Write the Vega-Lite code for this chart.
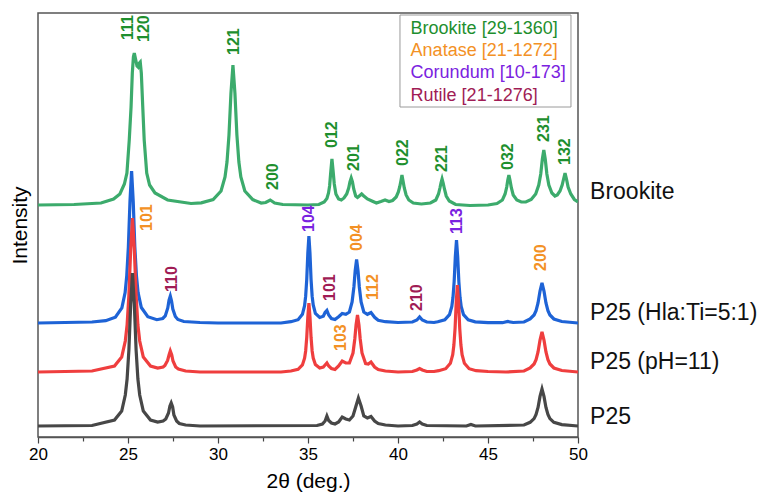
{
  "$schema": "https://vega.github.io/schema/vega-lite/v6.json",
  "width": 540,
  "height": 424,
  "autosize": {"type": "none"},
  "padding": {"left": 38, "top": 13, "right": 181, "bottom": 58},
  "config": {
    "font": "Liberation Sans",
    "view": {"stroke": "#555555", "strokeWidth": 1.5},
    "axis": {"labelFont": "Liberation Sans", "titleFont": "Liberation Sans", "labelColor": "#000000", "titleColor": "#000000", "titleFontWeight": "normal", "grid": false}
  },
  "datasets": {
    "curves": [
      {"s":"Brookite","t":20,"i":232},{"s":"Brookite","t":22,"i":232.5},{"s":"Brookite","t":23.5,"i":234},{"s":"Brookite","t":24.2,"i":238},{"s":"Brookite","t":24.55,"i":243},{"s":"Brookite","t":24.8,"i":253},{"s":"Brookite","t":24.94,"i":264},{"s":"Brookite","t":25.07,"i":297},{"s":"Brookite","t":25.17,"i":330},{"s":"Brookite","t":25.24,"i":364},{"s":"Brookite","t":25.3,"i":380},{"s":"Brookite","t":25.35,"i":384},{"s":"Brookite","t":25.42,"i":378},{"s":"Brookite","t":25.5,"i":371},{"s":"Brookite","t":25.56,"i":370},{"s":"Brookite","t":25.63,"i":374},{"s":"Brookite","t":25.68,"i":375},{"s":"Brookite","t":25.74,"i":364},{"s":"Brookite","t":25.82,"i":330},{"s":"Brookite","t":25.9,"i":297},{"s":"Brookite","t":26.04,"i":264},{"s":"Brookite","t":26.2,"i":252},{"s":"Brookite","t":26.5,"i":244},{"s":"Brookite","t":27.2,"i":237},{"s":"Brookite","t":28.5,"i":233.5},{"s":"Brookite","t":29.07,"i":234.1},{"s":"Brookite","t":29.73,"i":237.4},{"s":"Brookite","t":30.17,"i":246},{"s":"Brookite","t":30.39,"i":260},{"s":"Brookite","t":30.5,"i":275},{"s":"Brookite","t":30.61,"i":302},{"s":"Brookite","t":30.72,"i":344},{"s":"Brookite","t":30.83,"i":372},{"s":"Brookite","t":30.94,"i":344},{"s":"Brookite","t":31.05,"i":302},{"s":"Brookite","t":31.16,"i":275},{"s":"Brookite","t":31.27,"i":260},{"s":"Brookite","t":31.49,"i":246},{"s":"Brookite","t":31.93,"i":237.4},{"s":"Brookite","t":32.4,"i":234},{"s":"Brookite","t":32.65,"i":234.5},{"s":"Brookite","t":32.9,"i":237},{"s":"Brookite","t":33.15,"i":234},{"s":"Brookite","t":33.6,"i":232.5},{"s":"Brookite","t":35,"i":232},{"s":"Brookite","t":35.6,"i":232.5},{"s":"Brookite","t":35.9,"i":235},{"s":"Brookite","t":36.05,"i":238.5},{"s":"Brookite","t":36.14,"i":244},{"s":"Brookite","t":36.2,"i":251},{"s":"Brookite","t":36.26,"i":264},{"s":"Brookite","t":36.33,"i":278},{"s":"Brookite","t":36.4,"i":265},{"s":"Brookite","t":36.46,"i":253},{"s":"Brookite","t":36.55,"i":243},{"s":"Brookite","t":36.7,"i":238},{"s":"Brookite","t":36.85,"i":237},{"s":"Brookite","t":37,"i":239},{"s":"Brookite","t":37.15,"i":243},{"s":"Brookite","t":37.26,"i":249},{"s":"Brookite","t":37.33,"i":255},{"s":"Brookite","t":37.4,"i":259},{"s":"Brookite","t":37.47,"i":255},{"s":"Brookite","t":37.54,"i":248},{"s":"Brookite","t":37.65,"i":241},{"s":"Brookite","t":37.75,"i":239.5},{"s":"Brookite","t":37.85,"i":241},{"s":"Brookite","t":37.98,"i":243},{"s":"Brookite","t":38.1,"i":241},{"s":"Brookite","t":38.3,"i":238},{"s":"Brookite","t":38.55,"i":236},{"s":"Brookite","t":38.8,"i":234},{"s":"Brookite","t":39.05,"i":235.5},{"s":"Brookite","t":39.28,"i":237},{"s":"Brookite","t":39.5,"i":235.5},{"s":"Brookite","t":39.7,"i":236.5},{"s":"Brookite","t":39.9,"i":240},{"s":"Brookite","t":40.02,"i":245},{"s":"Brookite","t":40.1,"i":250.5},{"s":"Brookite","t":40.16,"i":256},{"s":"Brookite","t":40.22,"i":262},{"s":"Brookite","t":40.28,"i":256},{"s":"Brookite","t":40.35,"i":249},{"s":"Brookite","t":40.45,"i":242},{"s":"Brookite","t":40.6,"i":237},{"s":"Brookite","t":40.85,"i":234},{"s":"Brookite","t":41.3,"i":233},{"s":"Brookite","t":41.8,"i":234},{"s":"Brookite","t":42.1,"i":237},{"s":"Brookite","t":42.25,"i":243},{"s":"Brookite","t":42.33,"i":249},{"s":"Brookite","t":42.39,"i":254},{"s":"Brookite","t":42.45,"i":258},{"s":"Brookite","t":42.51,"i":254},{"s":"Brookite","t":42.58,"i":248},{"s":"Brookite","t":42.68,"i":241},{"s":"Brookite","t":42.85,"i":236},{"s":"Brookite","t":43.2,"i":232.5},{"s":"Brookite","t":44,"i":231.5},{"s":"Brookite","t":45,"i":232},{"s":"Brookite","t":45.5,"i":233.5},{"s":"Brookite","t":45.8,"i":237},{"s":"Brookite","t":45.95,"i":243},{"s":"Brookite","t":46.04,"i":250},{"s":"Brookite","t":46.1,"i":257},{"s":"Brookite","t":46.16,"i":262},{"s":"Brookite","t":46.22,"i":257},{"s":"Brookite","t":46.3,"i":249},{"s":"Brookite","t":46.4,"i":242},{"s":"Brookite","t":46.6,"i":237},{"s":"Brookite","t":46.85,"i":235},{"s":"Brookite","t":47.1,"i":235},{"s":"Brookite","t":47.4,"i":237.5},{"s":"Brookite","t":47.65,"i":243},{"s":"Brookite","t":47.82,"i":252},{"s":"Brookite","t":47.93,"i":263},{"s":"Brookite","t":48.02,"i":278},{"s":"Brookite","t":48.1,"i":287},{"s":"Brookite","t":48.18,"i":278},{"s":"Brookite","t":48.27,"i":263},{"s":"Brookite","t":48.38,"i":252},{"s":"Brookite","t":48.55,"i":244},{"s":"Brookite","t":48.72,"i":241},{"s":"Brookite","t":48.85,"i":242},{"s":"Brookite","t":49,"i":246},{"s":"Brookite","t":49.12,"i":252},{"s":"Brookite","t":49.2,"i":258},{"s":"Brookite","t":49.28,"i":264},{"s":"Brookite","t":49.36,"i":258},{"s":"Brookite","t":49.45,"i":250},{"s":"Brookite","t":49.6,"i":243},{"s":"Brookite","t":49.8,"i":237.5},{"s":"Brookite","t":50,"i":235},

      {"s":"Hla","t":20,"i":114},{"s":"Hla","t":23,"i":115},{"s":"Hla","t":23.76,"i":116.3},{"s":"Hla","t":24.3,"i":119.8},{"s":"Hla","t":24.66,"i":129.2},{"s":"Hla","t":24.84,"i":144.4},{"s":"Hla","t":24.93,"i":161},{"s":"Hla","t":25.02,"i":190},{"s":"Hla","t":25.11,"i":235.6},{"s":"Hla","t":25.2,"i":266},{"s":"Hla","t":25.29,"i":235.6},{"s":"Hla","t":25.38,"i":190},{"s":"Hla","t":25.47,"i":161},{"s":"Hla","t":25.56,"i":144.4},{"s":"Hla","t":25.74,"i":129.5},{"s":"Hla","t":26.1,"i":120.3},{"s":"Hla","t":26.6,"i":117.3},{"s":"Hla","t":26.93,"i":118.5},{"s":"Hla","t":27.07,"i":121},{"s":"Hla","t":27.21,"i":129},{"s":"Hla","t":27.28,"i":137},{"s":"Hla","t":27.35,"i":141},{"s":"Hla","t":27.42,"i":136},{"s":"Hla","t":27.49,"i":128},{"s":"Hla","t":27.63,"i":120.5},{"s":"Hla","t":27.77,"i":117.5},{"s":"Hla","t":28.1,"i":115.5},{"s":"Hla","t":29,"i":114.5},{"s":"Hla","t":30,"i":114},{"s":"Hla","t":33.5,"i":114},{"s":"Hla","t":34.05,"i":115.3},{"s":"Hla","t":34.45,"i":117.3},{"s":"Hla","t":34.69,"i":122.7},{"s":"Hla","t":34.81,"i":131.4},{"s":"Hla","t":34.87,"i":140.8},{"s":"Hla","t":34.93,"i":157.5},{"s":"Hla","t":34.99,"i":183.6},{"s":"Hla","t":35.05,"i":201},{"s":"Hla","t":35.11,"i":183.6},{"s":"Hla","t":35.17,"i":157.5},{"s":"Hla","t":35.23,"i":140.8},{"s":"Hla","t":35.29,"i":132},{"s":"Hla","t":35.41,"i":123.5},{"s":"Hla","t":35.65,"i":119.5},{"s":"Hla","t":35.85,"i":120.7},{"s":"Hla","t":35.95,"i":124.5},{"s":"Hla","t":36.05,"i":126.5},{"s":"Hla","t":36.15,"i":122},{"s":"Hla","t":36.3,"i":118.5},{"s":"Hla","t":36.5,"i":117.5},{"s":"Hla","t":36.7,"i":120.3},{"s":"Hla","t":36.9,"i":123.5},{"s":"Hla","t":37.1,"i":122.7},{"s":"Hla","t":37.3,"i":125},{"s":"Hla","t":37.45,"i":135},{"s":"Hla","t":37.55,"i":150},{"s":"Hla","t":37.62,"i":166},{"s":"Hla","t":37.7,"i":177.5},{"s":"Hla","t":37.78,"i":166},{"s":"Hla","t":37.85,"i":150},{"s":"Hla","t":37.95,"i":135},{"s":"Hla","t":38.1,"i":125},{"s":"Hla","t":38.3,"i":122.7},{"s":"Hla","t":38.5,"i":124.5},{"s":"Hla","t":38.7,"i":119.7},{"s":"Hla","t":38.9,"i":116.7},{"s":"Hla","t":39.3,"i":115.3},{"s":"Hla","t":40,"i":114.5},{"s":"Hla","t":40.8,"i":115},{"s":"Hla","t":41.05,"i":117},{"s":"Hla","t":41.2,"i":120},{"s":"Hla","t":41.35,"i":117},{"s":"Hla","t":41.6,"i":115},{"s":"Hla","t":42,"i":114.5},{"s":"Hla","t":42.21,"i":115.2},{"s":"Hla","t":42.6,"i":117.2},{"s":"Hla","t":42.86,"i":122.3},{"s":"Hla","t":42.99,"i":130.6},{"s":"Hla","t":43.055,"i":139.7},{"s":"Hla","t":43.12,"i":155.5},{"s":"Hla","t":43.185,"i":180.4},{"s":"Hla","t":43.25,"i":197},{"s":"Hla","t":43.315,"i":180.4},{"s":"Hla","t":43.38,"i":155.5},{"s":"Hla","t":43.445,"i":139.7},{"s":"Hla","t":43.51,"i":130.6},{"s":"Hla","t":43.64,"i":122.3},{"s":"Hla","t":43.9,"i":117.2},{"s":"Hla","t":44.29,"i":115.2},{"s":"Hla","t":45,"i":114.3},{"s":"Hla","t":45.8,"i":114.3},{"s":"Hla","t":46.1,"i":115.5},{"s":"Hla","t":46.4,"i":114.5},{"s":"Hla","t":47,"i":115},{"s":"Hla","t":47.34,"i":118},{"s":"Hla","t":47.56,"i":122},{"s":"Hla","t":47.67,"i":126.4},{"s":"Hla","t":47.78,"i":134},{"s":"Hla","t":47.89,"i":146},{"s":"Hla","t":48,"i":154},{"s":"Hla","t":48.11,"i":146},{"s":"Hla","t":48.22,"i":134},{"s":"Hla","t":48.33,"i":126.4},{"s":"Hla","t":48.44,"i":122},{"s":"Hla","t":48.66,"i":118},{"s":"Hla","t":49.1,"i":115.5},{"s":"Hla","t":50,"i":114},

      {"s":"pH","t":20,"i":65},{"s":"pH","t":23,"i":66},{"s":"pH","t":24.25,"i":71},{"s":"pH","t":24.65,"i":80},{"s":"pH","t":24.85,"i":96},{"s":"pH","t":24.95,"i":112},{"s":"pH","t":25.05,"i":142},{"s":"pH","t":25.15,"i":188},{"s":"pH","t":25.25,"i":219},{"s":"pH","t":25.35,"i":188},{"s":"pH","t":25.45,"i":142},{"s":"pH","t":25.55,"i":112},{"s":"pH","t":25.65,"i":96},{"s":"pH","t":25.85,"i":80},{"s":"pH","t":26.25,"i":71},{"s":"pH","t":26.65,"i":69},{"s":"pH","t":26.95,"i":70},{"s":"pH","t":27.05,"i":71.5},{"s":"pH","t":27.2,"i":76.5},{"s":"pH","t":27.28,"i":82},{"s":"pH","t":27.35,"i":86},{"s":"pH","t":27.43,"i":82},{"s":"pH","t":27.5,"i":76},{"s":"pH","t":27.65,"i":70},{"s":"pH","t":27.8,"i":68},{"s":"pH","t":28.2,"i":66},{"s":"pH","t":29,"i":65},{"s":"pH","t":33.5,"i":65},{"s":"pH","t":34.05,"i":66},{"s":"pH","t":34.45,"i":67.7},{"s":"pH","t":34.69,"i":72},{"s":"pH","t":34.81,"i":78.8},{"s":"pH","t":34.87,"i":86},{"s":"pH","t":34.93,"i":99.5},{"s":"pH","t":34.99,"i":120},{"s":"pH","t":35.05,"i":134},{"s":"pH","t":35.11,"i":120},{"s":"pH","t":35.17,"i":99.5},{"s":"pH","t":35.23,"i":86},{"s":"pH","t":35.29,"i":79},{"s":"pH","t":35.41,"i":72.5},{"s":"pH","t":35.65,"i":69},{"s":"pH","t":35.85,"i":70},{"s":"pH","t":35.95,"i":72},{"s":"pH","t":36.05,"i":74},{"s":"pH","t":36.15,"i":71},{"s":"pH","t":36.3,"i":68.5},{"s":"pH","t":36.5,"i":67.5},{"s":"pH","t":36.7,"i":71},{"s":"pH","t":36.9,"i":76},{"s":"pH","t":37.1,"i":74},{"s":"pH","t":37.3,"i":74},{"s":"pH","t":37.5,"i":84},{"s":"pH","t":37.6,"i":98},{"s":"pH","t":37.67,"i":112},{"s":"pH","t":37.75,"i":122},{"s":"pH","t":37.83,"i":112},{"s":"pH","t":37.9,"i":98},{"s":"pH","t":38,"i":84},{"s":"pH","t":38.2,"i":73.5},{"s":"pH","t":38.35,"i":73},{"s":"pH","t":38.5,"i":75},{"s":"pH","t":38.7,"i":70},{"s":"pH","t":38.9,"i":67.4},{"s":"pH","t":39.3,"i":66},{"s":"pH","t":40,"i":65},{"s":"pH","t":40.8,"i":65.5},{"s":"pH","t":41.05,"i":67},{"s":"pH","t":41.2,"i":68.5},{"s":"pH","t":41.35,"i":67},{"s":"pH","t":41.6,"i":65.5},{"s":"pH","t":42,"i":65.5},{"s":"pH","t":42.26,"i":66.3},{"s":"pH","t":42.65,"i":68.3},{"s":"pH","t":42.91,"i":73.7},{"s":"pH","t":43.04,"i":82.4},{"s":"pH","t":43.105,"i":92},{"s":"pH","t":43.17,"i":108.5},{"s":"pH","t":43.235,"i":134.6},{"s":"pH","t":43.3,"i":152},{"s":"pH","t":43.365,"i":134.6},{"s":"pH","t":43.43,"i":108.5},{"s":"pH","t":43.495,"i":92},{"s":"pH","t":43.56,"i":82.4},{"s":"pH","t":43.69,"i":73.7},{"s":"pH","t":43.95,"i":68.3},{"s":"pH","t":44.34,"i":66.3},{"s":"pH","t":45,"i":65.5},{"s":"pH","t":46,"i":65},{"s":"pH","t":47,"i":66},{"s":"pH","t":47.34,"i":69},{"s":"pH","t":47.56,"i":73},{"s":"pH","t":47.67,"i":77.4},{"s":"pH","t":47.78,"i":85},{"s":"pH","t":47.89,"i":97},{"s":"pH","t":48,"i":105},{"s":"pH","t":48.11,"i":97},{"s":"pH","t":48.22,"i":85},{"s":"pH","t":48.33,"i":77.4},{"s":"pH","t":48.44,"i":73},{"s":"pH","t":48.66,"i":69},{"s":"pH","t":49.1,"i":66.5},{"s":"pH","t":50,"i":65},

      {"s":"P25","t":20,"i":11},{"s":"P25","t":23,"i":11.5},{"s":"P25","t":24.25,"i":17},{"s":"P25","t":24.65,"i":26},{"s":"P25","t":24.85,"i":42},{"s":"P25","t":24.95,"i":58},{"s":"P25","t":25.05,"i":87},{"s":"P25","t":25.15,"i":133},{"s":"P25","t":25.25,"i":164},{"s":"P25","t":25.35,"i":133},{"s":"P25","t":25.45,"i":87},{"s":"P25","t":25.55,"i":58},{"s":"P25","t":25.65,"i":42},{"s":"P25","t":25.85,"i":26},{"s":"P25","t":26.25,"i":17},{"s":"P25","t":26.65,"i":15},{"s":"P25","t":26.95,"i":16},{"s":"P25","t":27.1,"i":18},{"s":"P25","t":27.25,"i":24},{"s":"P25","t":27.33,"i":31},{"s":"P25","t":27.4,"i":34},{"s":"P25","t":27.48,"i":30},{"s":"P25","t":27.55,"i":22},{"s":"P25","t":27.7,"i":16},{"s":"P25","t":27.85,"i":13.5},{"s":"P25","t":28.2,"i":12},{"s":"P25","t":29,"i":11},{"s":"P25","t":35.5,"i":11.5},{"s":"P25","t":35.8,"i":13},{"s":"P25","t":35.95,"i":16},{"s":"P25","t":36.05,"i":21},{"s":"P25","t":36.15,"i":16.5},{"s":"P25","t":36.3,"i":14},{"s":"P25","t":36.5,"i":13},{"s":"P25","t":36.7,"i":15},{"s":"P25","t":36.9,"i":20},{"s":"P25","t":37.1,"i":18},{"s":"P25","t":37.3,"i":17},{"s":"P25","t":37.5,"i":21},{"s":"P25","t":37.65,"i":30},{"s":"P25","t":37.8,"i":39},{"s":"P25","t":37.95,"i":31},{"s":"P25","t":38.1,"i":21},{"s":"P25","t":38.3,"i":19},{"s":"P25","t":38.5,"i":20.5},{"s":"P25","t":38.7,"i":16},{"s":"P25","t":38.9,"i":13.5},{"s":"P25","t":39.3,"i":12},{"s":"P25","t":40,"i":11},{"s":"P25","t":40.8,"i":11.5},{"s":"P25","t":41.05,"i":13},{"s":"P25","t":41.2,"i":15},{"s":"P25","t":41.35,"i":13},{"s":"P25","t":41.6,"i":11.5},{"s":"P25","t":43.8,"i":11},{"s":"P25","t":44.05,"i":12.5},{"s":"P25","t":44.3,"i":11},{"s":"P25","t":47,"i":12},{"s":"P25","t":47.34,"i":14.7},{"s":"P25","t":47.56,"i":18.4},{"s":"P25","t":47.67,"i":22.5},{"s":"P25","t":47.78,"i":29.5},{"s":"P25","t":47.89,"i":40.6},{"s":"P25","t":48,"i":48},{"s":"P25","t":48.11,"i":40.6},{"s":"P25","t":48.22,"i":29.5},{"s":"P25","t":48.33,"i":22.5},{"s":"P25","t":48.44,"i":18.4},{"s":"P25","t":48.66,"i":14.7},{"s":"P25","t":49.1,"i":12.4},{"s":"P25","t":50,"i":11}
    ],
    "peaks": [
      {"lab":"111","ph":"Brookite","t":25.0,"i":397},
      {"lab":"120","ph":"Brookite","t":25.9,"i":395},
      {"lab":"121","ph":"Brookite","t":30.9,"i":382},
      {"lab":"200","ph":"Brookite","t":33.05,"i":247},
      {"lab":"012","ph":"Brookite","t":36.33,"i":289},
      {"lab":"201","ph":"Brookite","t":37.55,"i":266},
      {"lab":"022","ph":"Brookite","t":40.3,"i":271},
      {"lab":"221","ph":"Brookite","t":42.45,"i":265},
      {"lab":"032","ph":"Brookite","t":46.1,"i":267},
      {"lab":"231","ph":"Brookite","t":48.1,"i":295},
      {"lab":"132","ph":"Brookite","t":49.3,"i":272},
      {"lab":"101","ph":"Anatase","t":26.05,"i":206},
      {"lab":"004","ph":"Anatase","t":37.7,"i":186},
      {"lab":"112","ph":"Anatase","t":38.6,"i":137},
      {"lab":"103","ph":"Anatase","t":36.85,"i":86},
      {"lab":"200","ph":"Anatase","t":47.95,"i":166},
      {"lab":"104","ph":"Corundum","t":35.05,"i":205},
      {"lab":"113","ph":"Corundum","t":43.3,"i":203},
      {"lab":"110","ph":"Rutile","t":27.45,"i":145},
      {"lab":"101","ph":"Rutile","t":36.2,"i":136},
      {"lab":"210","ph":"Rutile","t":41.05,"i":126}
    ],
    "names": [
      {"name":"Brookite","t":50.67,"i":245},
      {"name":"P25 (Hla:Ti=5:1)","t":50.67,"i":124},
      {"name":"P25 (pH=11)","t":50.67,"i":75},
      {"name":"P25","t":50.67,"i":20}
    ],
    "box": [{"t":40.11,"t2":49.61,"i":330,"i2":422}],
    "legend": [
      {"txt":"Brookite [29-1360]","ph":"Brookite","t":40.7,"i":408},
      {"txt":"Anatase [21-1272]","ph":"Anatase","t":40.7,"i":386},
      {"txt":"Corundum [10-173]","ph":"Corundum","t":40.7,"i":364},
      {"txt":"Rutile [21-1276]","ph":"Rutile","t":40.7,"i":341}
    ]
  },
  "encoding": {
    "x": {
      "field": "t", "type": "quantitative",
      "scale": {"domain": [20, 50], "nice": false, "zero": false},
      "axis": {
        "values": [20, 22.5, 25, 27.5, 30, 32.5, 35, 37.5, 40, 42.5, 45, 47.5, 50],
        "labelExpr": "datum.value % 5 === 0 ? datum.label : ''",
        "labelOverlap": false,
        "labelFlush": false,
        "tickSize": {"condition": {"test": "datum.value % 5 === 0", "value": 6}, "value": 4},
        "tickColor": "#444444", "tickWidth": 1.2,
        "domainColor": "#555555", "domainWidth": 1.5,
        "labelFontSize": 17, "labelPadding": 3,
        "title": "2θ (deg.)", "titleFontSize": 21, "titlePadding": 8
      }
    },
    "y": {
      "field": "i", "type": "quantitative",
      "scale": {"domain": [0, 424], "nice": false, "zero": false},
      "axis": {"title": "Intensity", "ticks": false, "labels": false, "domain": false, "titleFontSize": 21, "titlePadding": 8}
    }
  },
  "layer": [
    {"data": {"name": "curves"}, "transform": [{"filter": "datum.s === 'Brookite'"}], "mark": {"type": "line", "strokeWidth": 3.2, "color": "#3CAB6C", "clip": true}, "encoding": {"order": {"field": "t"}}},
    {"data": {"name": "curves"}, "transform": [{"filter": "datum.s === 'Hla'"}], "mark": {"type": "line", "strokeWidth": 3.2, "color": "#1E63D6", "clip": true}, "encoding": {"order": {"field": "t"}}},
    {"data": {"name": "curves"}, "transform": [{"filter": "datum.s === 'pH'"}], "mark": {"type": "line", "strokeWidth": 3.2, "color": "#EF3E3E", "clip": true}, "encoding": {"order": {"field": "t"}}},
    {"data": {"name": "curves"}, "transform": [{"filter": "datum.s === 'P25'"}], "mark": {"type": "line", "strokeWidth": 3.2, "color": "#474747", "clip": true}, "encoding": {"order": {"field": "t"}}},
    {"data": {"name": "box"}, "mark": {"type": "rect", "fill": "#FFFFFF", "stroke": "#9A9A9A", "strokeWidth": 1}, "encoding": {"x2": {"field": "t2"}, "y2": {"field": "i2"}}},
    {"data": {"name": "legend"}, "mark": {"type": "text", "align": "left", "baseline": "middle", "fontSize": 18, "font": "Liberation Sans"},
     "encoding": {"text": {"field": "txt"}, "color": {"field": "ph", "type": "nominal", "legend": null, "scale": {"domain": ["Brookite", "Anatase", "Corundum", "Rutile"], "range": ["#1E8F2E", "#F39125", "#7A22E0", "#A01C55"]}}}},
    {"data": {"name": "peaks"}, "mark": {"type": "text", "angle": 270, "align": "left", "baseline": "middle", "fontSize": 16, "fontWeight": "bold", "font": "Liberation Sans"},
     "encoding": {"text": {"field": "lab"}, "color": {"field": "ph", "type": "nominal", "legend": null, "scale": {"domain": ["Brookite", "Anatase", "Corundum", "Rutile"], "range": ["#1E8F2E", "#F39125", "#7A22E0", "#A01C55"]}}}},
    {"data": {"name": "names"}, "mark": {"type": "text", "align": "left", "baseline": "middle", "fontSize": 23, "font": "Liberation Sans", "color": "#111111"},
     "encoding": {"text": {"field": "name"}}}
  ]
}
